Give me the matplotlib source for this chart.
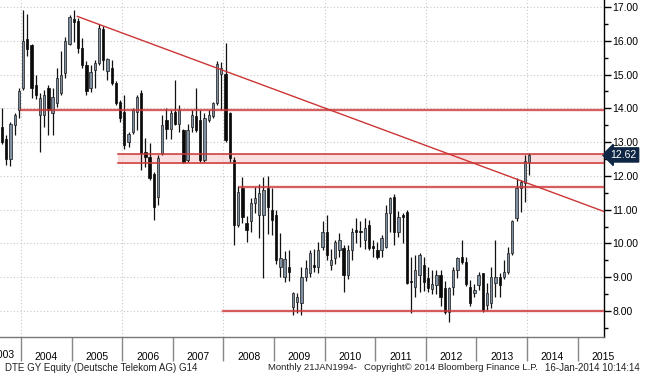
import matplotlib
matplotlib.use("Agg")
import matplotlib.pyplot as plt
import matplotlib.transforms as mtransforms
from matplotlib.ticker import MultipleLocator, FixedLocator, NullFormatter

plt.rcParams['font.family'] = ['Liberation Sans', 'DejaVu Sans']

# monthly candles, Aug 2003 .. Jan 2014
start_year = 2003
start_month = 8
opens = [13.45, 13.1, 12.5, 13.5, 13.95, 14.6, 16.05, 15.87, 14.7, 13.8,
         13.8, 14.6, 13.85, 14.15, 14.45, 15.05, 15.9, 16.65, 16.6, 15.78,
         15.28, 14.6, 15.13, 15.33, 16.34, 15.1, 15.2, 14.74, 14.2, 13.9,
         13.0, 13.3, 13.9, 14.45, 12.72, 12.57, 12.07, 11.38, 12.67, 13.65,
         13.4, 13.9, 13.55, 13.36, 12.47, 13.45, 13.76, 13.65, 12.47, 13.65,
         13.77, 14.15, 15.03, 15.03, 13.86, 12.47, 10.54, 11.63, 10.6, 10.65,
         11.19, 10.84, 10.84, 11.63, 10.99, 10.84, 9.3, 9.0, 9.31, 8.12,
         8.28, 8.23, 9.01, 9.12, 9.36, 9.31, 9.9, 10.35, 9.36, 9.57,
         9.8, 9.86, 9.07, 9.8, 10.4, 10.38, 10.1, 10.54, 9.92, 9.8,
         9.8, 9.9, 10.89, 11.38, 10.35, 10.85, 10.94, 8.9, 8.72, 9.07,
         9.36, 8.97, 8.65, 8.77, 9.07, 8.67, 7.98, 8.72, 9.21, 9.6,
         9.46, 8.72, 8.52, 8.77, 9.12, 8.18, 8.23, 8.82, 9.0, 9.0,
         9.16, 9.71, 10.74, 11.63, 11.8, 12.42]
highs = [14.0, 13.2, 13.6, 13.85, 14.6, 16.9, 16.8, 15.9, 15.0, 14.45,
         14.55, 14.7, 14.6, 15.2, 15.7, 16.1, 16.75, 16.9, 16.67, 16.08,
         15.4, 15.28, 15.43, 16.5, 16.45, 15.5, 15.43, 14.8, 14.25, 14.39,
         13.3, 14.0, 14.39, 14.54, 13.12, 12.97, 12.12, 12.62, 13.8, 14.0,
         13.95, 14.83, 14.1, 13.4, 13.55, 13.95, 14.59, 13.95, 13.85, 13.95,
         14.2, 15.4, 15.38, 15.92, 13.9, 12.55, 11.7, 11.97, 10.8, 11.34,
         11.68, 11.75, 11.97, 12.0, 11.63, 10.99, 10.3, 9.77, 9.8, 8.57,
         8.53, 9.31, 9.5, 9.8, 9.85, 10.05, 10.65, 10.85, 9.85, 10.1,
         10.3, 9.95, 9.95, 10.45, 10.75, 10.65, 10.75, 10.7, 10.1, 10.05,
         10.25, 11.14, 11.38, 11.45, 10.95, 10.9, 10.99, 9.6, 9.67, 9.72,
         9.6, 9.3, 9.2, 9.2, 9.2, 8.9, 8.72, 9.31, 9.6, 10.1,
         9.6, 8.92, 8.8, 9.15, 9.12, 8.82, 9.3, 10.1, 9.12, 9.5,
         9.9, 10.7, 11.94, 11.88, 12.62, 12.67]
lows = [12.95, 12.32, 12.3, 13.2, 13.7, 14.55, 15.55, 14.3, 14.27, 12.7,
        13.45, 13.2, 13.2, 14.05, 14.4, 14.9, 15.87, 15.95, 15.65, 15.2,
        14.4, 14.48, 14.6, 15.28, 15.13, 14.83, 14.68, 14.1, 13.6, 12.81,
        12.86, 13.25, 13.36, 12.17, 12.27, 11.88, 10.69, 11.14, 12.62, 13.1,
        13.1, 13.5, 13.3, 12.37, 12.4, 13.3, 13.3, 12.42, 12.42, 13.6,
        13.7, 14.1, 13.95, 13.0, 12.4, 9.95, 10.5, 10.6, 10.05, 10.35,
        10.89, 10.16, 8.97, 10.28, 10.25, 9.4, 9.0, 8.85, 8.9, 7.88,
        7.94, 7.88, 8.9, 9.0, 9.15, 9.13, 9.8, 9.5, 9.2, 9.4,
        9.6, 8.57, 8.95, 9.5, 10.0, 9.9, 9.85, 9.8, 9.6, 9.55,
        9.6, 9.86, 10.35, 9.95, 10.2, 10.0, 8.8, 7.93, 8.4, 8.57,
        8.6, 8.55, 8.5, 8.5, 8.15, 7.92, 7.68, 8.47, 8.97, 9.4,
        8.75, 8.15, 8.4, 8.62, 7.97, 8.03, 8.1, 8.42, 8.42, 8.95,
        9.1, 9.66, 10.65, 10.94, 11.24, 12.02]
closes = [13.0, 12.5, 13.55, 13.8, 14.5, 16.0, 15.75, 14.6, 14.4, 14.3,
          14.4, 13.95, 14.35, 14.9, 15.0, 16.0, 16.7, 16.55, 15.8, 15.28,
          14.5, 15.08, 15.33, 16.37, 15.43, 15.45, 14.75, 14.15, 13.7, 12.91,
          13.25, 13.95, 14.34, 12.67, 12.57, 11.93, 11.09, 12.52, 13.5, 13.4,
          13.85, 13.55, 13.95, 12.42, 13.36, 13.8, 13.36, 12.47, 13.7, 13.8,
          14.15, 15.3, 15.2, 13.06, 12.53, 10.55, 11.53, 10.79, 10.4, 11.19,
          11.34, 11.48, 11.58, 11.08, 10.69, 9.51, 9.57, 9.55, 9.16, 8.53,
          8.42, 9.01, 9.27, 9.72, 9.3, 9.8, 10.35, 9.66, 9.51, 10.05,
          10.1, 9.07, 9.8, 10.35, 10.35, 10.33, 10.45, 9.86, 9.86, 9.6,
          10.15, 10.89, 11.34, 10.35, 10.79, 10.79, 8.82, 8.85, 9.21, 9.66,
          8.87, 8.67, 8.8, 9.07, 8.42, 7.98, 8.67, 9.21, 9.56, 9.46,
          8.8, 8.23, 8.62, 9.07, 8.03, 8.52, 9.01, 9.0, 8.77, 9.16,
          9.71, 10.65, 11.63, 11.82, 12.45, 12.62]

last_price = 12.62

# drawn studies: trend line, horizontal levels and the shaded band
trend_start = (2005.1, 16.73)
trend_end = (2015.53, 10.94)
levels = [(2004.0, 13.94), (2008.33, 11.68), (2008.0, 8.0)]
band = (2005.92, 12.38, 12.64)

years = list(range(2003, 2016))
grid_years = [2004, 2006, 2008, 2010, 2012, 2014]

x_min, x_max = 2003.585, 2015.52
y_min, y_max = 7.23, 17.207

up_color = '#7f8fa2'
red = '#cc3535'

fig = plt.figure(figsize=(6.45, 3.74), dpi=100)
ax = fig.add_axes([0, 1 - 337 / 374, 604 / 645, 337 / 374])
ax.set_xlim(x_min, x_max)
ax.set_ylim(y_min, y_max)

# grid
for y in range(8, 18):
    ax.axhline(y, color='#c8c8c8', lw=0.8, ls=(0, (1, 2)), zorder=0)
for gy in grid_years:
    ax.axvline(gy, color='#c8c8c8', lw=0.8, ls=(0, (1, 2)), zorder=0)

# candles
w = 0.55 / 12
for i in range(len(opens)):
    x = start_year + (start_month - 1) / 12 + (i + 1) / 12 - 0.5 / 12
    o, h, l, c = opens[i], highs[i], lows[i], closes[i]
    ax.vlines(x, l, h, color='#111111', lw=0.9, zorder=3)
    if c >= o:
        ax.bar(x, max(c - o, 0.03), bottom=o, width=w, color=up_color,
               edgecolor='#1a1a1a', lw=0.5, zorder=4)
    else:
        ax.bar(x, o - c, bottom=c, width=w, color='#0a0a0a',
               edgecolor='#0a0a0a', lw=0.5, zorder=4)

# studies
ax.plot([trend_start[0], trend_end[0]], [trend_start[1], trend_end[1]],
        color=red, lw=1.0, zorder=5, solid_capstyle='butt')
for x0, lv in levels:
    ax.plot([x0, x_max], [lv, lv], color=red, lw=1.1, zorder=5)
    ax.plot([x0, x_max], [lv, lv], color=red, lw=3, alpha=0.12, zorder=5)
ax.fill_between([band[0], x_max], band[1], band[2], color='#f8cccc', alpha=0.6, zorder=2)
ax.plot([band[0], x_max], [band[1], band[1]], color=red, lw=1.1, zorder=5)
ax.plot([band[0], x_max], [band[2], band[2]], color=red, lw=1.1, zorder=5)

# axes styling
for s in ['top', 'left']:
    ax.spines[s].set_visible(False)
ax.spines['right'].set_color('black')
ax.spines['right'].set_linewidth(1.0)
ax.spines['bottom'].set_color('#777777')
ax.spines['bottom'].set_linewidth(1.0)

ax.yaxis.tick_right()
ax.yaxis.set_major_locator(MultipleLocator(1))
ax.yaxis.set_minor_locator(MultipleLocator(0.5))
ax.yaxis.set_major_formatter(plt.FormatStrFormatter('%.2f'))
ax.tick_params(axis='y', which='major', direction='out', length=5, width=1,
               color='black', labelsize=7.5, pad=1)
ax.tick_params(axis='y', which='minor', direction='out', length=3, width=1, color='black')

ax.xaxis.set_major_locator(FixedLocator(years))
ax.xaxis.set_major_formatter(NullFormatter())
ax.xaxis.set_minor_locator(FixedLocator([yr + 0.5 for yr in years]))
ax.xaxis.set_minor_formatter(plt.FixedFormatter([str(yr) for yr in years]))
ax.tick_params(axis='x', which='major', direction='out', length=17, width=1, color='#888888')
ax.tick_params(axis='x', which='minor', length=0, labelsize=7.5, pad=11)

# first year label, cut by the left edge as in the original
trans = mtransforms.blended_transform_factory(ax.transData, fig.transFigure)
ax.text(years[0] + 0.64, 1 - 355 / 374, str(years[0]), transform=trans, ha='center',
        va='center', fontsize=7.5, clip_on=False)

# last price tag
ax.annotate(f'{last_price:.2f}', xy=(x_max, last_price), xycoords='data',
            xytext=(14, 0), textcoords='offset points', ha='center', va='center',
            color='white', fontsize=7.5, annotation_clip=False,
            bbox=dict(boxstyle='larrow,pad=0.2', fc='#0f2744', ec='#0f2744'))

# footer
fy = 1 - 368 / 374
fig.text(5 / 645, fy, 'DTE GY Equity (Deutsche Telekom AG) G14', fontsize=7, va='center', color='#222222')
fig.text(268 / 645, fy, 'Monthly 21JAN1994-', fontsize=6.8, va='center', color='#222222')
fig.text(364 / 645, fy, 'Copyright\u00a9 2014 Bloomberg Finance L.P.', fontsize=6.8, va='center', color='#222222')
fig.text(640 / 645, fy, '16-Jan-2014 10:14:14', fontsize=7, va='center', ha='right', color='#222222')

fig.savefig('out.png', dpi=100)
